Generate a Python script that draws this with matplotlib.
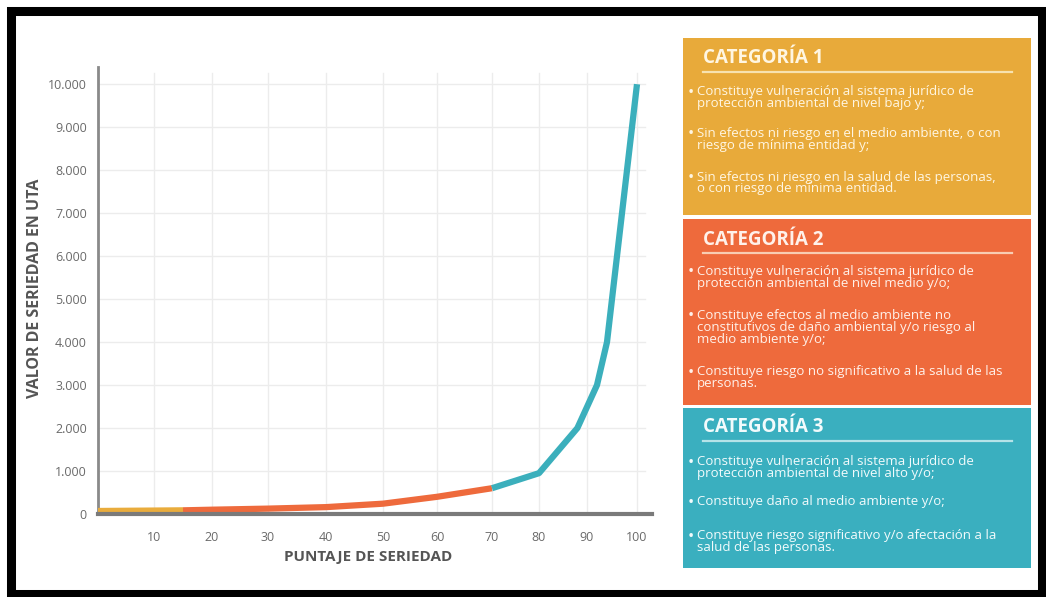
import numpy as np
import matplotlib
matplotlib.use("Agg")
import matplotlib.pyplot as plt
from matplotlib import font_manager
from matplotlib.patches import Rectangle
from matplotlib.ticker import FuncFormatter, FixedLocator

# Score (x) vs UTA value (y) for each category segment of the curve
cat1_x = [0, 15]
cat1_y = [70, 85]
cat2_x = [15, 20, 30, 40, 50, 60, 70]
cat2_y = [85, 100, 125, 160, 240, 400, 600]
cat3_x = [70, 80, 88, 92, 94, 96, 100]
cat3_y = [600, 950, 2000, 3000, 4000, 6000, 10000]

x_ticks = [10, 20, 30, 40, 50, 60, 70, 80, 90, 100]
y_ticks = [0, 1000, 2000, 3000, 4000, 5000, 6000, 7000, 8000, 9000, 10000]

x_label = "PUNTAJE DE SERIEDAD"
y_label = "VALOR DE SERIEDAD EN UTA"

cat_titles = ["CATEGORÍA 1", "CATEGORÍA 2", "CATEGORÍA 3"]
cat_items = [
    [
        ["Constituye vulneración al sistema jurídico de",
         "protección ambiental de nivel bajo y;"],
        ["Sin efectos ni riesgo en el medio ambiente, o con",
         "riesgo de mínima entidad y;"],
        ["Sin efectos ni riesgo en la salud de las personas,",
         "o con riesgo de mínima entidad."],
    ],
    [
        ["Constituye vulneración al sistema jurídico de",
         "protección ambiental de nivel medio y/o;"],
        ["Constituye efectos al medio ambiente no",
         "constitutivos de daño ambiental y/o riesgo al",
         "medio ambiente y/o;"],
        ["Constituye riesgo no significativo a la salud de las",
         "personas."],
    ],
    [
        ["Constituye vulneración al sistema jurídico de",
         "protección ambiental de nivel alto y/o;"],
        ["Constituye daño al medio ambiente y/o;"],
        ["Constituye riesgo significativo y/o afectación a la",
         "salud de las personas."],
    ],
]

cat_colors = ["#E8AA3A", "#EE6A3C", "#3AAFBF"]
line_colors = ["#E9AC3C", "#EE6A3C", "#3BAFBC"]
rule_colors = ["#F7E2B0", "#F8CDB3", "#B5E3E8"]
text_colors = ["#FFF6E2", "#FFF1EA", "#F2FBFC"]

# pick a narrow face when available, the reference uses a condensed sans
installed = {f.name for f in font_manager.fontManager.ttflist}
narrow = "Liberation Sans Narrow" if "Liberation Sans Narrow" in installed else "Open Sans"
plt.rcParams["font.family"] = [narrow, "DejaVu Sans"]

W, H = 1046, 597
fig = plt.figure(figsize=(W / 100, H / 100), dpi=100)


def fx(px):
    return px / W


def fy(py):
    return 1 - py / H


# the printed x axis is not evenly spaced, follow it with a piecewise scale
warp_val = [-10, 0, 10, 20, 30, 40, 50, 60, 70, 80, 90, 100, 103, 120]
warp_pos = [-56, 0, 56, 114, 170, 228, 285, 339, 394, 441, 489, 539, 554, 640]


def fwd(v):
    return np.interp(v, warp_val, warp_pos)


def inv(p):
    return np.interp(p, warp_pos, warp_val)


ax = fig.add_axes([fx(98), fy(514), fx(652) - fx(98), fy(67) - fy(514)])
ax.set_xscale("function", functions=(fwd, inv))
ax.set_xlim(0, 103)
ax.set_ylim(0, 10400)

# grid
for v in y_ticks[1:]:
    ax.plot([0, 101.5], [v, v], color="#ECECEC", lw=1, zorder=0)
for v in x_ticks:
    ax.plot([v, v], [0, 10250], color="#ECECEC", lw=1, zorder=0)

ax.plot(cat1_x, cat1_y, color=line_colors[0], lw=4.5, solid_capstyle="butt", zorder=3)
ax.plot(cat2_x, cat2_y, color=line_colors[1], lw=4.5, solid_capstyle="butt", zorder=3)
ax.plot(cat3_x, cat3_y, color=line_colors[2], lw=4.5, solid_capstyle="butt", zorder=3)

ax.xaxis.set_major_locator(FixedLocator(x_ticks))
ax.yaxis.set_major_locator(FixedLocator(y_ticks))
ax.xaxis.set_minor_locator(FixedLocator([]))
ax.yaxis.set_major_formatter(FuncFormatter(lambda v, p: f"{int(v):,}".replace(",", ".")))
ax.tick_params(length=0, labelsize=9, labelcolor="#6A6A6A")
ax.tick_params(axis="x", pad=12)
ax.tick_params(axis="y", pad=8)

for s in ["top", "right"]:
    ax.spines[s].set_visible(False)
ax.spines["left"].set_color("#8A8A8A")
ax.spines["left"].set_linewidth(2)
ax.spines["bottom"].set_color("#7A7A7A")
ax.spines["bottom"].set_linewidth(3)
ax.spines["bottom"].set_zorder(4)

fig.text(fx(368), fy(557), x_label, ha="center", va="center",
         fontsize=11, fontweight="bold", color="#555555")
fig.text(fx(35), fy(288), y_label, ha="center", va="center", rotation=90,
         fontsize=11.5, fontweight="bold", color="#555555")

# category panels on the right
box_top = [38, 219, 408]
box_bot = [215, 405, 568]
head_y = [58, 240, 427]
rule_y = [72, 253, 441]
item_y = [[92, 133, 177], [271, 315, 372], [462, 502, 536]]
line_gap = 12

for i in range(3):
    fig.patches.append(Rectangle((fx(683), fy(box_bot[i])), fx(1031) - fx(683),
                                 fy(box_top[i]) - fy(box_bot[i]),
                                 transform=fig.transFigure, facecolor=cat_colors[i],
                                 edgecolor="none", zorder=1))
    fig.text(fx(703), fy(head_y[i]), cat_titles[i], ha="left", va="center",
             fontsize=13.5, fontweight="bold", color=text_colors[i], zorder=3)
    fig.add_artist(plt.Line2D([fx(703), fx(1012)], [fy(rule_y[i])] * 2,
                              color=rule_colors[i], lw=1.6, zorder=3))
    for j, lines in enumerate(cat_items[i]):
        y0 = item_y[i][j]
        fig.text(fx(688), fy(y0 + 1), "•", ha="left", va="center",
                 fontsize=12, color=text_colors[i], zorder=3)
        for k, ln in enumerate(lines):
            fig.text(fx(697), fy(y0 + k * line_gap), ln, ha="left", va="center",
                     fontsize=9.5, color=text_colors[i], zorder=3)

# black frame round the picture
fig.patches.append(Rectangle((fx(10.5), fy(593.5)), fx(1041.5) - fx(10.5),
                             fy(11) - fy(593.5), transform=fig.transFigure,
                             facecolor="none", edgecolor="black", lw=6.5, zorder=5))

fig.savefig("out.png", dpi=100)
